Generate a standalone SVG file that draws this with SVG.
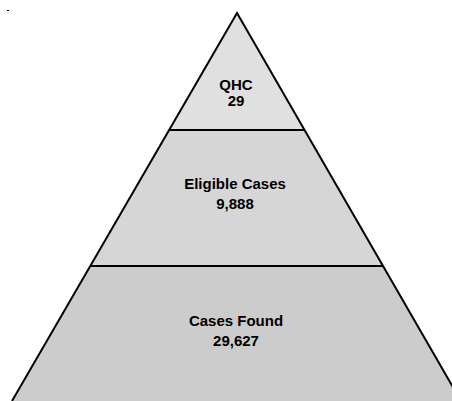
<svg xmlns="http://www.w3.org/2000/svg" width="452" height="401" viewBox="0 0 452 401">
<style>
.t{font-family:"Liberation Sans",Arial,Helvetica,sans-serif;font-weight:bold;font-size:15px;fill:#000;text-anchor:middle}
.sec{stroke:none}
.edge{stroke:#000;stroke-width:2;fill:none}
</style>
<rect width="452" height="401" fill="#fff"/>
<rect x="7" y="10" width="2" height="1" fill="#000"/>
<g id="top">
<polygon class="sec" points="237,13 304.5,130 169.5,130" fill="#e0e0e0"/>
<text class="t" x="236" y="90">QHC</text>
<text class="t" x="236" y="106">29</text>
</g>
<g id="middle">
<polygon class="sec" points="169.5,130 304.5,130 383,266 91,266" fill="#d6d6d6"/>
<text class="t" x="235" y="189">Eligible Cases</text>
<text class="t" x="235" y="209">9,888</text>
</g>
<g id="bottom">
<polygon class="sec" points="91,266 383,266 461,401 12,401" fill="#cccccc"/>
<text class="t" x="236" y="326">Cases Found</text>
<text class="t" x="236" y="346">29,627</text>
</g>
<g id="connectors">
<polyline class="edge" points="12,401 237,13 461,401"/>
<line class="edge" x1="169.5" y1="130" x2="304.5" y2="130"/>
<line class="edge" x1="91" y1="266" x2="383" y2="266"/>
</g>
</svg>
